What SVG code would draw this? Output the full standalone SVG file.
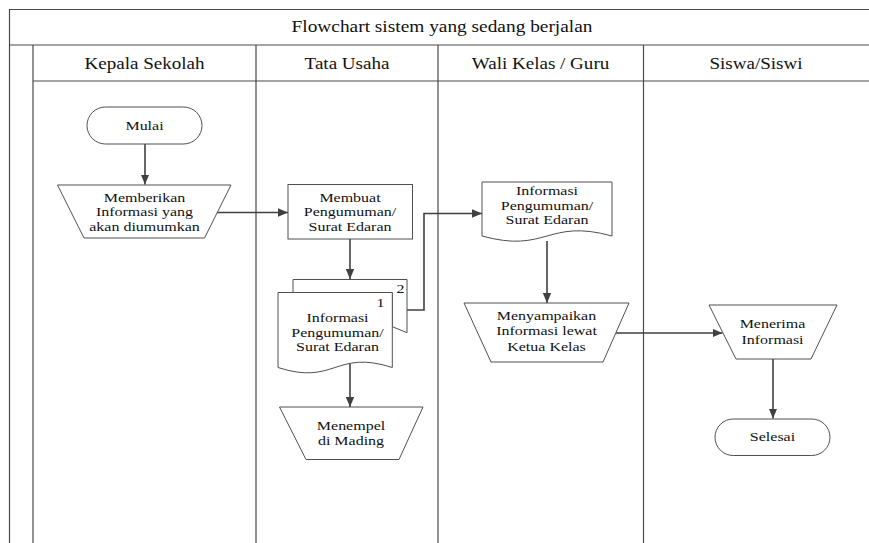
<svg xmlns="http://www.w3.org/2000/svg" width="869" height="543" viewBox="0 0 869 543">
<defs>
<marker id="ah" viewBox="0 0 10 10" refX="10" refY="5" markerWidth="10" markerHeight="10" markerUnits="userSpaceOnUse" orient="auto">
<path d="M0,0.8 L10,5 L0,9.2 Z" fill="#404040"/>
</marker>
<style>
.lane{stroke:#4a4a4a;stroke-width:1.2;fill:none}
.shp{stroke:#505050;stroke-width:1;fill:#fff}
.con{stroke:#404040;stroke-width:1.6;fill:none;marker-end:url(#ah)}
.t{font-size:13px;fill:#111;text-anchor:middle}
.h{font-size:16px;fill:#111;text-anchor:middle}
</style>
</defs>
<rect width="869" height="543" fill="#fff"/>
<g id="pool" font-family="Liberation Serif, Times New Roman, DejaVu Serif, serif">
<path class="lane" d="M9.5,543 V9.5 H869 M9.5,45 H869 M33,45 V543 M33,81 H869 M256,45 V543 M438,45 V543 M643.5,45 V543"/>
<text class="h" transform="translate(442 0) scale(1.21 1)" x="0" y="32">Flowchart sistem yang sedang berjalan</text>
<text class="h" transform="translate(144.5 0) scale(1.19 1)" x="0" y="69">Kepala Sekolah</text>
<text class="h" transform="translate(347 0) scale(1.19 1)" x="0" y="69">Tata Usaha</text>
<text class="h" transform="translate(540.5 0) scale(1.19 1)" x="0" y="69">Wali Kelas / Guru</text>
<text class="h" transform="translate(756 0) scale(1.19 1)" x="0" y="69">Siswa/Siswi</text>
</g>
<g id="connectors">
<path class="con" d="M145,144 V184.5"/>
<path class="con" d="M217,212.5 H288"/>
<path class="con" d="M350,239 V279"/>
<path class="con" d="M407,310 H424 V213.5 H482"/>
<path class="con" d="M350,364 V407"/>
<path class="con" d="M547,241 V303"/>
<path class="con" d="M616,333 H722.5"/>
<path class="con" d="M773,359 V418.5"/>
</g>
<g font-family="Liberation Serif, Times New Roman, DejaVu Serif, serif">
<g id="mulai">
<rect class="shp" x="87" y="107" width="115" height="37" rx="18.5"/>
<text class="t" transform="translate(144.5 0) scale(1.23 1)" x="0" y="130.5">Mulai</text>
</g>
<g id="memberikan">
<path class="shp" d="M57.5,185 H231 L204.5,238 H84 Z"/>
<text class="t" transform="translate(144.5 0) scale(1.23 1)" x="0"><tspan x="0" y="201.7">Memberikan</tspan><tspan x="0" y="216.5">Informasi yang</tspan><tspan x="0" y="231.2">akan diumumkan</tspan></text>
</g>
<g id="membuat">
<rect class="shp" x="288" y="184.5" width="124.5" height="54.5"/>
<text class="t" transform="translate(350 0) scale(1.23 1)" x="0"><tspan x="0" y="201.7">Membuat</tspan><tspan x="0" y="216.5">Pengumuman/</tspan><tspan x="0" y="231.2">Surat Edaran</tspan></text>
</g>
<g id="dokumen-tu">
<path class="shp" d="M293,292.5 V279.5 H407 V332.7 L392.3,326.7 V292.5 Z"/>
<path class="shp" d="M278,292.5 H392.3 V367.5 C335,349 335,386 278,367.5 Z"/>
<text class="t" transform="translate(400.5 0) scale(1.23 1)" x="0" y="293">2</text>
<text class="t" transform="translate(380.5 0) scale(1.23 1)" x="0" y="307">1</text>
<text class="t" transform="translate(337.5 0) scale(1.23 1)" x="0"><tspan x="0" y="322">Informasi</tspan><tspan x="0" y="336.7">Pengumuman/</tspan><tspan x="0" y="351.5">Surat Edaran</tspan></text>
</g>
<g id="menempel">
<path class="shp" d="M279.5,407 H423 L399,459.5 H306 Z"/>
<text class="t" transform="translate(351 0) scale(1.23 1)" x="0"><tspan x="0" y="430">Menempel</tspan><tspan x="0" y="445">di Mading</tspan></text>
</g>
<g id="dokumen-wali">
<path class="shp" d="M482,182 H612 V236 C547,218 547,254 482,236 Z"/>
<text class="t" transform="translate(547 0) scale(1.23 1)" x="0"><tspan x="0" y="194.7">Informasi</tspan><tspan x="0" y="209.7">Pengumuman/</tspan><tspan x="0" y="224.5">Surat Edaran</tspan></text>
</g>
<g id="menyampaikan">
<path class="shp" d="M464,303 H629 L603,362 H491 Z"/>
<text class="t" transform="translate(546.5 0) scale(1.23 1)" x="0"><tspan x="0" y="320">Menyampaikan</tspan><tspan x="0" y="335.3">Informasi lewat</tspan><tspan x="0" y="350.6">Ketua Kelas</tspan></text>
</g>
<g id="menerima">
<path class="shp" d="M709,305 H837 L811,359 H736 Z"/>
<text class="t" transform="translate(772.5 0) scale(1.23 1)" x="0"><tspan x="0" y="328.5">Menerima</tspan><tspan x="0" y="344.3">Informasi</tspan></text>
</g>
<g id="selesai">
<rect class="shp" x="715" y="419" width="115" height="36.5" rx="18.25"/>
<text class="t" transform="translate(772.5 0) scale(1.23 1)" x="0" y="441.5">Selesai</text>
</g>
</g>
</svg>
